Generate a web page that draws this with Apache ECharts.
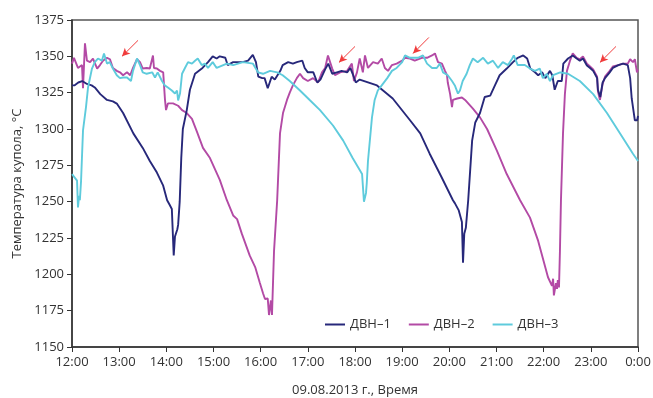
<!DOCTYPE html>
<html>
<head>
<meta charset="utf-8">
<script src="https://cdn.jsdelivr.net/npm/echarts@6/dist/echarts.min.js"></script>
<style>
html,body{margin:0;padding:0;background:#fff;}
#chart{width:653px;height:398px;}
</style>
</head>
<body>
<div id="chart"></div>
<script>
// x values are minutes after 12:00 on 09.08.2013
const tickLabels = ["12:00","13:00","14:00","15:00","16:00","17:00","18:00","19:00","20:00","21:00","22:00","23:00","0:00"];
const seriesNames = ["ДВН–1","ДВН–2","ДВН–3"];

const dvn1 = [[0,1330],[3,1330],[8,1332],[13,1333],[19,1331],[25,1330],[29,1328.6],[36,1324],[44.5,1320],[52,1319],[57,1317.5],[65,1311],[78,1297],[90,1287],[99,1278],[108,1270],[116,1261],[121,1251],[124,1248],[127,1245],[129.4,1213],[131,1226],[134,1231],[135,1234],[137,1250],[139,1280],[141,1300],[146,1313],[150,1327],[156.5,1338],[166,1342],[173,1346],[179,1350],[184,1348.5],[188,1350],[195,1349],[198,1344],[205,1346],[217,1346],[224,1347],[230,1351],[234,1346],[237,1336],[242,1335],[245,1335],[249,1328],[254,1336],[258,1334],[265,1340],[268,1344],[275,1346],[281,1345],[286,1346],[293,1347],[296,1342],[300,1339],[307,1339],[312,1332],[316,1334],[322,1341],[326,1345],[331,1338],[337,1339],[343,1340],[350,1339],[354,1342],[357,1338],[361,1332],[366,1334],[388,1330],[408,1321],[430,1306],[443,1297],[455,1283],[470,1267],[484.6,1251],[487,1249],[492,1244],[496,1236],[497.4,1208],[499,1228],[501,1232],[504,1251],[509,1292],[513,1304.5],[519,1311],[525,1322],[532,1323],[538,1330],[544,1337],[553,1341.6],[561,1346],[567,1349],[574,1350.6],[579,1348.5],[583,1341.6],[589,1339],[593,1337],[598,1339],[602,1335],[608,1340],[611,1337],[614,1327],[618,1333],[623,1333],[625,1345],[631,1348.5],[637,1350.6],[642,1348.5],[646,1347],[650,1348.5],[655,1343.7],[659,1342],[663,1340],[668,1335],[669,1327],[672,1322],[675,1332],[678,1335],[684,1339],[688,1342],[695,1344],[701,1345],[707,1344],[710,1335],[712,1321],[714,1320],[716,1306],[719,1306],[720,1309]];

const dvn2 = [[0,1345],[2.5,1349],[5,1348.5],[7.6,1342],[12.7,1344],[14,1328],[16.5,1359],[19,1347],[23,1346],[26.7,1348.5],[32,1341.6],[35.6,1344],[39.4,1347],[44.5,1349],[48.3,1348],[52,1342],[57,1340],[61,1339],[65,1337],[70,1339],[74,1337],[77.6,1342],[82.7,1348],[86.5,1346],[90,1341.6],[95,1342],[99,1341.6],[103,1350.6],[104.3,1342],[108,1341.6],[112,1340],[116,1339],[118.3,1320],[119.6,1313],[122,1317.6],[128.5,1317.6],[135,1316],[140,1313],[146,1311],[152.6,1307],[159,1298],[166.6,1287],[175.5,1280],[188,1265],[197,1251],[205,1240.5],[210,1238],[216,1228],[226,1213],[233,1205],[239,1194],[243,1187],[245.5,1183],[249,1183.4],[250.6,1172],[253,1182],[254.4,1172],[257,1216],[261,1251],[264.6,1297],[268.4,1311],[273.5,1320],[277,1325],[281,1330],[286,1335],[290,1338],[294,1335],[300,1333],[306.6,1335],[313,1332],[318,1339],[322,1342],[325.6,1350.6],[331,1341.6],[334.5,1337],[341,1339],[350,1340],[356,1345],[358.7,1333],[362.5,1339],[366,1348.5],[370,1339],[372.7,1350.6],[376.5,1342],[383,1346],[389,1345],[394,1348.5],[398,1342],[402,1340],[407,1344],[413,1345],[420,1347],[423.6,1349],[430,1348.5],[436,1347],[445,1349],[451.6,1349],[458,1350.6],[461.7,1352],[465.6,1346],[470.6,1345],[474.5,1340],[477,1337],[478,1332],[481,1324],[483.4,1315],[484.6,1320],[490,1321],[496,1321.7],[500,1320],[510,1314],[519,1308],[528,1300],[540.6,1285],[553,1269],[570,1251],[582.6,1239],[593,1223],[605.5,1198],[610.6,1192],[612,1197],[613,1185.5],[615.6,1194],[617,1190],[618,1196],[619.5,1191],[620.7,1216],[622,1251],[624.6,1297],[627,1324],[629.6,1340],[633.5,1347],[637,1352],[642,1349],[646,1348],[650,1350],[655,1345],[659,1343],[663,1341],[668,1336],[669,1326],[671.6,1320],[675,1331],[678,1336],[684,1340],[688,1343],[695,1344],[701,1345],[707,1345],[710,1348],[713.6,1346],[716,1348],[718.7,1339],[720,1341]];

const dvn3 = [[0,1269],[2.5,1269],[6.4,1264.5],[7.6,1246],[9,1254],[10,1251],[11.5,1264],[14,1299],[17.8,1315],[20.4,1328.6],[25.4,1341.6],[29,1346],[33,1348.5],[38,1347],[40.7,1352],[44.5,1345],[48,1346],[52,1341.6],[57,1337],[61,1335],[65,1335.4],[70,1335.4],[75,1333],[77.6,1340],[82.7,1348.5],[86.5,1344],[90,1339],[95,1338],[102,1339],[105.6,1335.4],[109,1339],[114.5,1333],[118,1330],[122,1328.6],[127,1326.5],[131,1324.4],[133.6,1326.5],[135,1319.6],[137.4,1324.4],[140,1338],[143.7,1342],[147.6,1346],[152.6,1345],[156.5,1347],[160,1348.5],[165,1344],[169,1345],[173,1342],[179,1346],[184,1342],[197,1345],[205,1344],[217.5,1346],[230,1345],[236.6,1339],[243,1338],[252,1340],[261,1339],[268,1337],[277,1333],[290,1326.5],[303,1319.6],[315.5,1313],[332,1302.4],[345,1292],[357,1280],[369,1269],[370,1261],[371.4,1250],[374,1256],[375,1263],[376.5,1278],[381.6,1308],[385,1320],[389,1326.5],[394,1330],[401,1335],[407,1340],[413,1342],[420,1346],[423.6,1350.6],[430,1349],[440,1349],[446.5,1350.6],[451.6,1345],[458,1342],[464,1342],[468,1345],[472,1339],[478,1337],[483.4,1333],[487,1330],[491,1324.4],[493.5,1326.5],[497,1333],[502,1338],[506,1344],[510,1348.5],[516,1346],[523,1349],[529,1345],[535.5,1347],[542,1342],[548,1346],[554.6,1344],[560,1348.5],[562,1350.6],[567,1344],[576,1344],[582.6,1341.6],[589,1340],[595,1341.6],[599,1335],[604,1338],[608,1333],[612,1337],[621,1339],[631,1338],[646,1333],[663,1324],[680.5,1311],[697,1297],[713.6,1283],[720,1278]];

// red annotation arrows: [tailMinute, tailValue, headMinute, headValue]
const arrows = [[84,1361,63.6,1350],[360,1356.8,339.6,1345.8],[454,1363,433.8,1352],[692,1356.8,671.6,1345.8]];

const FONT = "'Open Sans', 'DejaVu Sans', sans-serif";
const TXT = '#333333';
const colors = {"ДВН–1":'#27287a',"ДВН–2":'#b34aa5',"ДВН–3":'#5ecbdc'};

const chart = echarts.init(document.getElementById('chart'), null, {renderer:'canvas'});

function lineSeries(name, data){
  return {
    name: name, type: 'line', data: data, showSymbol: false, symbol: 'none',
    lineStyle: {color: colors[name], width: 1.9}, itemStyle: {color: colors[name]},
    animation: false
  };
}

const option = {
  animation: false,
  grid: {left: 72, right: 15, top: 20, bottom: 51, outerBoundsMode: 'none', containLabel: false,
    show: true, borderColor: '#555', borderWidth: 1.5, backgroundColor: 'transparent'},
  legend: {
    data: seriesNames,
    left: 320, top: 313,
    icon: 'rect', itemWidth: 20, itemHeight: 2, itemGap: 18,
    textStyle: {fontFamily: FONT, fontSize: 13, color: TXT}
  },
  xAxis: {
    type: 'value', min: 0, max: 720, interval: 60,
    name: '09.08.2013 г., Время', nameLocation: 'middle', nameGap: 37,
    nameTextStyle: {fontFamily: FONT, fontSize: 13, color: TXT},
    axisLine: {show: true, lineStyle: {color: '#333', width: 1.5}},
    axisTick: {show: true, length: 5, lineStyle: {color: '#333'}},
    axisLabel: {fontFamily: FONT, fontSize: 13, color: TXT, margin: 9,
      formatter: function(v){ return tickLabels[Math.round(v/60)]; }},
    splitLine: {show: false}
  },
  yAxis: {
    type: 'value', min: 1150, max: 1375, interval: 25,
    name: 'Температура купола, °С', nameLocation: 'middle', nameGap: 48,
    nameTextStyle: {fontFamily: FONT, fontSize: 13, color: TXT},
    axisLine: {show: true, lineStyle: {color: '#333', width: 1.5}},
    axisTick: {show: true, length: 5, lineStyle: {color: '#333'}},
    axisLabel: {fontFamily: FONT, fontSize: 13, color: TXT, margin: 8,
      formatter: function(v){ return String(v); }},
    splitLine: {show: false}
  },
  series: [
    lineSeries(seriesNames[1], dvn2),
    lineSeries(seriesNames[0], dvn1),
    lineSeries(seriesNames[2], dvn3),
    {
      name: 'arrows', type: 'line', data: [], silent: true,
      markLine: {
        silent: true, symbol: ['none','arrow'], symbolSize: [6,8],
        label: {show: false},
        lineStyle: {color: '#f03c3c', width: 1, type: 'solid'},
        data: arrows.map(a => [{coord:[a[0],a[1]]},{coord:[a[2],a[3]]}])
      }
    }
  ]
};
chart.setOption(option);
</script>
</body>
</html>
